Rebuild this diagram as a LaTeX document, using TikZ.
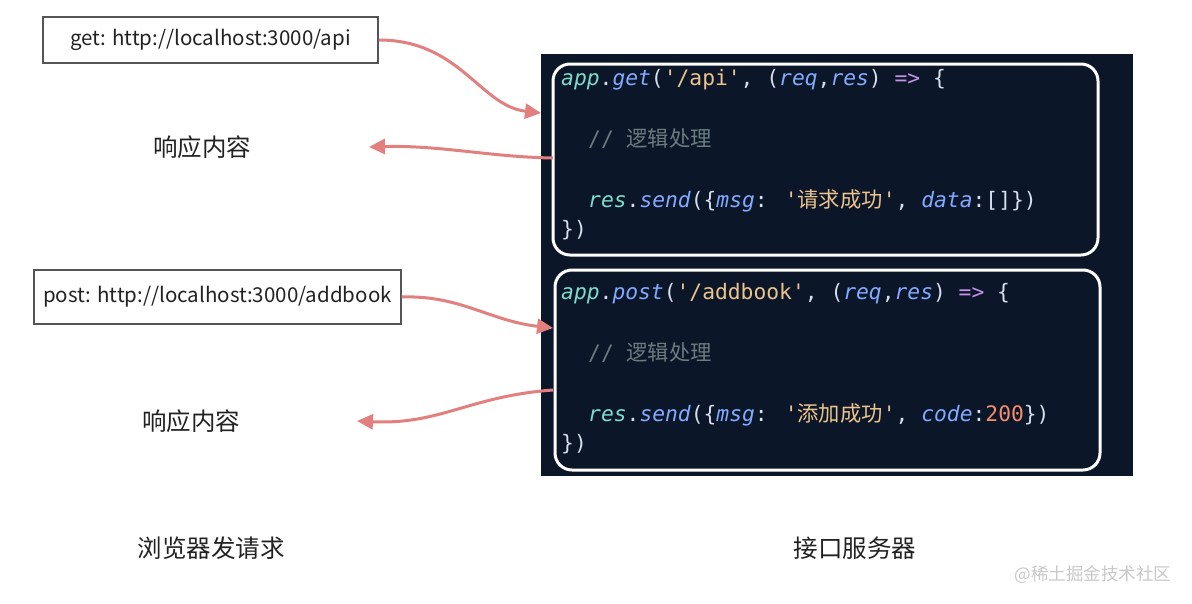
\documentclass[tikz,border=0pt]{standalone}
\usepackage{fontspec}
\usetikzlibrary{arrows.meta}
\setmainfont{Noto Sans CJK SC}
\newfontfamily\cjk{Noto Sans CJK SC}
\newfontfamily\codefont[Ligatures=TeXOff]{DejaVu Sans Mono}
\definecolor{cteal}{HTML}{7FDBCA}
\definecolor{cblue}{HTML}{82AAFF}
\definecolor{cstr}{HTML}{ECC48D}
\definecolor{cpurp}{HTML}{C792EA}
\definecolor{cpunc}{HTML}{D6DEEB}
\definecolor{ccom}{HTML}{6B7B7F}
\definecolor{cnum}{HTML}{F78C6C}
\definecolor{carrow}{HTML}{E27F7F}
\definecolor{panelc}{HTML}{0B1628}
\definecolor{boxline}{HTML}{555555}
\definecolor{txt}{HTML}{222222}
\definecolor{wm}{HTML}{C8C8C8}
\newcommand\cT[1]{\textcolor{cteal}{\itshape #1}}
\newcommand\cB[1]{\textcolor{cblue}{\itshape #1}}
\newcommand\cS[1]{\textcolor{cstr}{#1}}
\newcommand\cU[1]{\textcolor{cpurp}{#1}}
\newcommand\cN[1]{\textcolor{cnum}{#1}}
\begin{document}
\begin{tikzpicture}[x=1pt,y=-1pt,
  urlbox/.style={draw=boxline,line width=1.5pt,fill=white,text=txt,inner sep=0pt,font=\fontsize{20.5}{22}\selectfont},
  label/.style={text=txt,inner sep=0pt,font=\fontsize{24.5}{26}\selectfont},
  codeline/.style={anchor=west,inner sep=0pt,text=cpunc,text height=16pt,text depth=5.3pt,font=\codefont\fontsize{21.3}{24}\selectfont},
  frame/.style={draw=white,line width=3pt,rounded corners=17pt},
  flow/.style={draw=carrow,line width=3pt,-{Triangle[length=16pt,width=15pt]}}]
\useasboundingbox (0,0) rectangle (1192,603);
% url boxes
\node[urlbox,minimum width=335pt,minimum height=46pt] (box1) at (210.5,40) {get: http://localhost:3000/api};
\node[urlbox,minimum width=367pt,minimum height=54pt] (box2) at (217.5,297) {post: http://localhost:3000/addbook};
% labels
\node[label] (resp1) at (202,147) {响应内容};
\node[label] (resp2) at (191,421) {响应内容};
\node[label] (browser) at (211,548) {浏览器发请求};
\node[label] (server) at (855,548) {接口服务器};
\node[text=wm,inner sep=0pt,font=\fontsize{17.5}{19}\selectfont] (wmk) at (1093,575) {@稀土掘金技术社区};
% panel
\node[fill=panelc,inner sep=0pt,minimum width=592pt,minimum height=422pt] (panel) at (837,265) {};
\node[frame,minimum width=545pt,minimum height=191pt] (in1) at (825.5,159.5) {};
\node[frame,minimum width=545pt,minimum height=200pt] (in2) at (827.5,370) {};
% code block 1
\node[codeline] (l11) at (561,80) {\cT{app}.\cB{get}(\cS{'/api'}, (\cB{req},\cB{res}) \cU{=>} \{};
\node[codeline] (l12) at (588,141) {\textcolor{ccom}{// {\cjk 逻辑处理}}};
\node[codeline] (l13) at (588,202) {\cT{res}.\cB{send}(\{\cB{msg}: \cS{'{\cjk 请求成功}'}, \cB{data}:[]\})};
\node[codeline] (l14) at (561,231) {\})};
% code block 2
\node[codeline] (l21) at (561,294) {\cT{app}.\cB{post}(\cS{'/addbook'}, (\cB{req},\cB{res}) \cU{=>} \{};
\node[codeline] (l22) at (588,355) {\textcolor{ccom}{// {\cjk 逻辑处理}}};
\node[codeline] (l23) at (588,416) {\cT{res}.\cB{send}(\{\cB{msg}: \cS{'{\cjk 添加成功}'}, \cB{code}:\cN{200}\})};
\node[codeline] (l24) at (561,445) {\})};
% connectors
\coordinate (a1) at (541,113);
\coordinate (s2) at (553,158);
\coordinate (e2) at (369,147);
\coordinate (a3) at (553,328);
\coordinate (s4) at (553,390);
\coordinate (e4) at (357,421);
\draw[flow] (box1.east) .. controls (460,40) and (480,106) .. (a1);
\draw[flow] (s2) .. controls (490,157) and (440,145) .. (e2);
\draw[flow] (box2.east) .. controls (460,295) and (490,321) .. (a3);
\draw[flow] (s4) .. controls (470,396) and (440,425) .. (e4);
\end{tikzpicture}
\end{document}
